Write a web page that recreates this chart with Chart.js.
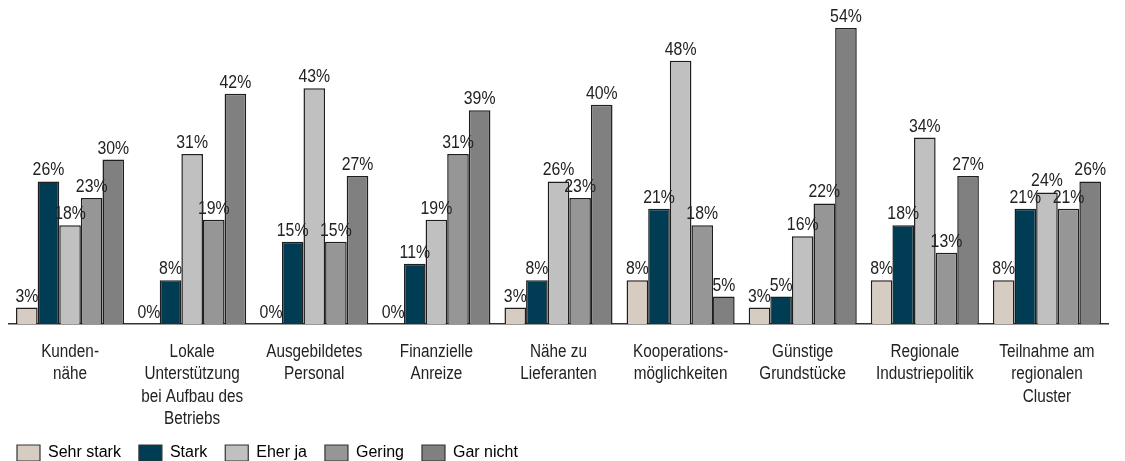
<!DOCTYPE html>
<html>
<head>
<meta charset="utf-8">
<style>
  html, body { margin: 0; padding: 0; background: #ffffff; }
  #wrap { width: 1125px; height: 461px; position: relative; }
</style>
<script src="https://cdn.jsdelivr.net/npm/chart.js@4.4.1/dist/chart.umd.min.js"></script>
</head>
<body>
<div id="wrap"><canvas id="c" width="1125" height="461"></canvas></div>
<script>
const categories = [
  ['Kunden-', 'nähe'],
  ['Lokale', 'Unterstützung', 'bei Aufbau des', 'Betriebs'],
  ['Ausgebildetes', 'Personal'],
  ['Finanzielle', 'Anreize'],
  ['Nähe zu', 'Lieferanten'],
  ['Kooperations-', 'möglichkeiten'],
  ['Günstige', 'Grundstücke'],
  ['Regionale', 'Industriepolitik'],
  ['Teilnahme am', 'regionalen', 'Cluster']
];
const seriesNames = ['Sehr stark', 'Stark', 'Eher ja', 'Gering', 'Gar nicht'];
const sehrStark = [3, 0, 0, 0, 3, 8, 3, 8, 8];
const stark     = [26, 8, 15, 11, 8, 21, 5, 18, 21];
const eherJa    = [18, 31, 43, 19, 26, 48, 16, 34, 24];
const gering    = [23, 19, 15, 31, 23, 18, 22, 13, 21];
const garNicht  = [30, 42, 27, 39, 40, 5, 54, 27, 26];
const colors = ['#d6ccc2', '#003c53', '#c0c0c0', '#969696', '#808080'];

const FONT = "'Liberation Sans', Arial, sans-serif";

// draws text horizontally condensed (the original uses a narrow typeface)
function narrowText(ctx, text, x, y, sx) {
  ctx.save();
  ctx.translate(x, y);
  ctx.scale(sx, 1);
  ctx.fillText(text, 0, 0);
  ctx.restore();
}

const valueLabels = {
  id: 'valueLabels',
  afterDatasetsDraw(chart) {
    const ctx = chart.ctx;
    ctx.save();
    ctx.font = '18px ' + FONT;
    ctx.fillStyle = '#222222';
    ctx.textAlign = 'center';
    ctx.textBaseline = 'alphabetic';
    chart.data.datasets.forEach((ds, i) => {
      const meta = chart.getDatasetMeta(i);
      meta.data.forEach((el, j) => {
        narrowText(ctx, ds.data[j] + '%', el.x, el.y - 6, 0.88);
      });
    });
    ctx.restore();
  }
};

const categoryLabels = {
  id: 'categoryLabels',
  afterDraw(chart) {
    const ctx = chart.ctx;
    const xs = chart.scales.x;
    const base = chart.chartArea.bottom;
    ctx.save();
    ctx.font = '18px ' + FONT;
    ctx.fillStyle = '#222222';
    ctx.textAlign = 'center';
    ctx.textBaseline = 'middle';
    chart.data.labels.forEach((lines, i) => {
      const x = xs.getPixelForTick(i);
      lines.forEach((t, k) => {
        narrowText(ctx, t, x, base + 28 + k * 22.3, 0.85);
      });
    });
    ctx.restore();
  }
};

const allSeries = [sehrStark, stark, eherJa, gering, garNicht];
new Chart(document.getElementById('c'), {
  type: 'bar',
  data: {
    labels: categories,
    datasets: allSeries.map((d, i) => ({
      label: seriesNames[i],
      data: d,
      backgroundColor: colors[i],
      borderColor: '#1e1e1e',
      borderWidth: 1.5,
      categoryPercentage: 0.885,
      barPercentage: 1.0
    }))
  },
  options: {
    responsive: false,
    animation: false,
    devicePixelRatio: 1,
    layout: { padding: { left: -1, right: 17, top: 6, bottom: -10 } },
    plugins: {
      tooltip: { enabled: false },
      legend: {
        position: 'bottom',
        align: 'start',
        labels: {
          boxWidth: 23,
          boxHeight: 16,
          padding: 18,
          color: '#111111',
          font: { family: FONT, size: 16 },
          generateLabels(chart) {
            return chart.data.datasets.map((ds, i) => ({
              text: ds.label,
              fillStyle: ds.backgroundColor,
              strokeStyle: '#333333',
              lineWidth: 1.2,
              datasetIndex: i,
              hidden: false
            }));
          }
        }
      }
    },
    scales: {
      x: {
        grid: { display: false, drawTicks: false },
        border: { display: true, color: '#333333', width: 1.5 },
        ticks: {
          color: 'rgba(0,0,0,0)',
          font: { family: FONT, size: 18 },
          padding: 10,
          maxRotation: 0,
          autoSkip: false
        },
        afterFit(scale) { scale.height = 103; }
      },
      y: {
        min: 0,
        max: 58,
        display: true,
        grid: { display: false, drawTicks: false },
        border: { display: false },
        ticks: { display: false },
        afterFit(scale) { scale.width = 10; }
      }
    }
  },
  plugins: [valueLabels, categoryLabels]
});
</script>
</body>
</html>
